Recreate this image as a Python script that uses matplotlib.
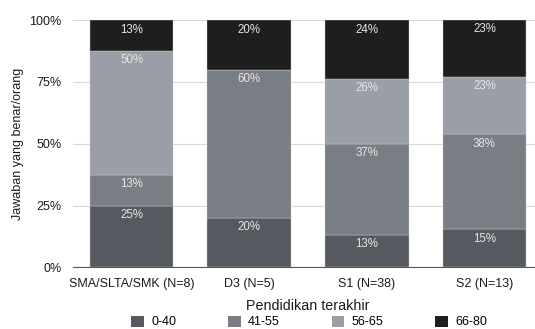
import matplotlib
matplotlib.use("Agg")
import matplotlib.pyplot as plt
import numpy as np
from matplotlib.patches import Patch

plt.rcParams['font.family'] = ['Liberation Sans', 'DejaVu Sans']

categories = ["SMA/SLTA/SMK (N=8)", "D3 (N=5)", "S1 (N=38)", "S2 (N=13)"]
series_names = ["0-40", "41-55", "56-65", "66-80"]
v_0_40 = [25.0, 20.0, 13.2, 15.4]
v_41_55 = [12.5, 60.0, 36.8, 38.5]
v_56_65 = [50.0, 0.0, 26.3, 23.1]
v_66_80 = [12.5, 20.0, 23.7, 23.1]
labels_0_40 = ["25%", "20%", "13%", "15%"]
labels_41_55 = ["13%", "60%", "37%", "38%"]
labels_56_65 = ["50%", "", "26%", "23%"]
labels_66_80 = ["13%", "20%", "24%", "23%"]

colors = ["#56595f", "#797e85", "#9a9ea7", "#1e1e1e"]
series = [v_0_40, v_41_55, v_56_65, v_66_80]
labels = [labels_0_40, labels_41_55, labels_56_65, labels_66_80]

fig = plt.figure(figsize=(5.35, 3.29), dpi=100)
ax = fig.add_axes([0.136, 0.187, 0.864, 0.752])

x = np.arange(len(categories))
bottom = np.zeros(len(categories))
for vals, col, labs in zip(series, colors, labels):
    vals = np.array(vals)
    ax.bar(x, vals, width=0.71, bottom=bottom, color=col, edgecolor="#c8c8c8",
           linewidth=0.3, zorder=2)
    for xi, b, v, lab in zip(x, bottom, vals, labs):
        if v > 0 and lab:
            ax.annotate(lab, (xi, b + v), xytext=(0, -6.8), textcoords="offset points",
                        ha="center", va="center", fontsize=8.3, color="#e6e6e6", zorder=3)
    bottom += vals

ax.set_xlim(-0.5, 3.43)
ax.set_ylim(0, 100)
ax.set_yticks([0, 25, 50, 75, 100])
ax.set_yticklabels(["0%", "25%", "50%", "75%", "100%"])
ax.set_xticks(x)
ax.set_xticklabels(categories)
ax.tick_params(axis='both', length=0, labelsize=9, colors="#1a1a1a")
ax.tick_params(axis='y', pad=8)
ax.tick_params(axis='x', pad=7.5)
ax.yaxis.grid(True, color="#d9d9d9", linewidth=0.8, zorder=0)
ax.set_axisbelow(True)
for s in ["top", "right", "left"]:
    ax.spines[s].set_visible(False)
ax.spines["bottom"].set_color("#555555")
ax.spines["bottom"].set_linewidth(0.8)

ax.set_ylabel("Jawaban yang benar/orang", fontsize=9, color="#1a1a1a", labelpad=4)
fig.text(0.576, 1 - 306 / 329, "Pendidikan terakhir", ha="center", va="center",
         fontsize=10.3, color="#1a1a1a")

handles = [Patch(facecolor=c, edgecolor="none") for c in colors]
fig.legend(handles, series_names, loc="center", bbox_to_anchor=(0.578, 1 - 322 / 329), ncol=4,
           frameon=False, fontsize=9, handlelength=1.0, handleheight=1.0,
           columnspacing=4.15, handletextpad=0.6, borderaxespad=0, borderpad=0)

fig.savefig("out.png", dpi=100)
